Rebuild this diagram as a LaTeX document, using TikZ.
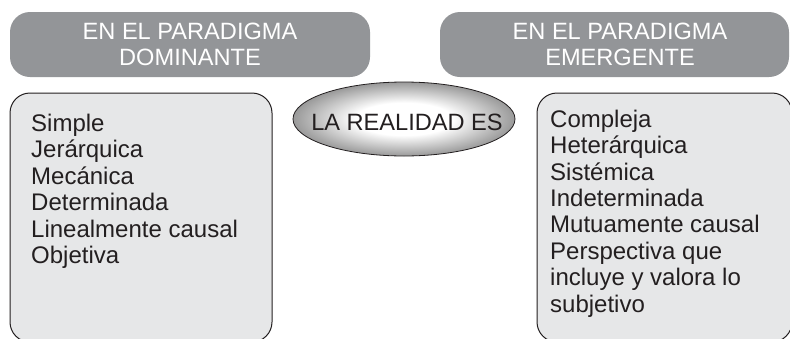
\documentclass[tikz,border=0pt]{standalone}
\usepackage{fontspec}
\setmainfont{Liberation Sans}
\usetikzlibrary{shapes.geometric}
\definecolor{titlegray}{HTML}{939598}
\definecolor{boxgray}{HTML}{E6E7E8}
\definecolor{ink}{HTML}{231F20}
\pgfdeclareradialshading{realshade}{\pgfpoint{0bp}{0bp}}{color(0bp)=(white); color(11bp)=(white); color(25bp)=(black!40); color(50bp)=(black!40)}
\begin{document}
\begin{tikzpicture}[x=1pt,y=-1pt,
  titlebox/.style={fill=titlegray, rounded corners=20pt, minimum height=65pt, inner sep=0pt, text=white, align=center, font=\fontsize{23.6}{25.5}\selectfont},
  contentbox/.style={draw=ink, line width=1pt, fill=boxgray, rounded corners=20pt, inner sep=0pt},
  itemtext/.style={anchor=base west, align=left, inner sep=0pt, text=ink, font=\fontsize{24}{26.4}\selectfont},
  ellipsebox/.style={ellipse, draw=ink, line width=0.8pt, shading=realshade, minimum width=222pt, minimum height=74pt, inner sep=0pt},
  ellipsetext/.style={inner sep=0pt, text=ink, font=\fontsize{23.6}{26}\selectfont}]
\useasboundingbox (0,0) rectangle (790,338);
\node[titlebox, minimum width=360pt] (t1) at (190,44.5) {EN EL PARADIGMA\\DOMINANTE};
\node[titlebox, minimum width=349pt] (t2) at (614.5,44.5) {\hspace*{11pt}EN EL PARADIGMA\\\hspace*{11pt}EMERGENTE};
\node[contentbox, minimum width=262pt, minimum height=249pt] (b1) at (141,217.5) {};
\node[contentbox, minimum width=255pt, minimum height=249pt] (b2) at (664.5,217.5) {};
\node[itemtext] (l1) at (31,263.5) {Simple\\Jerárquica\\Mecánica\\Determinada\\Linealmente causal\\Objetiva};
\node[itemtext] (l2) at (550,312) {Compleja\\Heterárquica\\Sistémica\\Indeterminada\\Mutuamente causal\\Perspectiva que\\incluye y valora lo\\subjetivo};
\node[ellipsebox] (e) at (404,119) {};
\node[ellipsetext, anchor=base] (et) at (407,130) {LA REALIDAD ES};
\end{tikzpicture}
\end{document}
